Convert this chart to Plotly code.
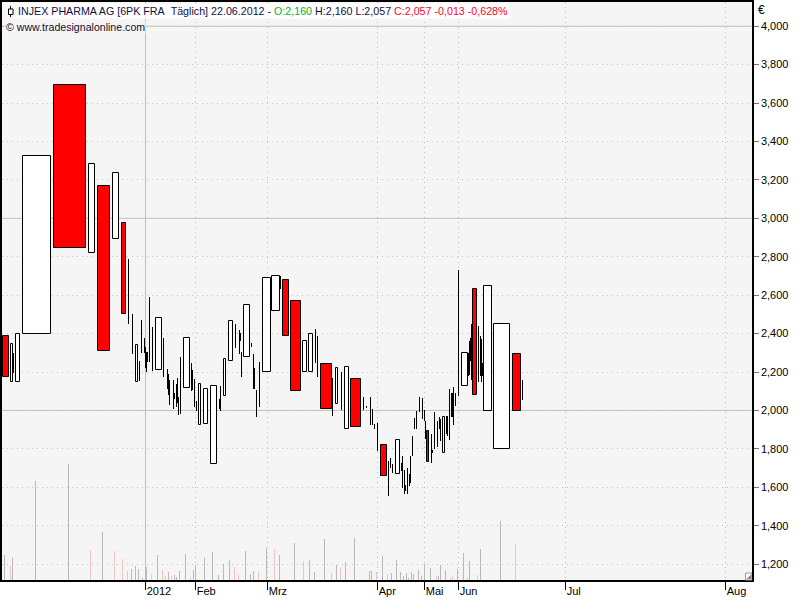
import plotly.graph_objects as go

# Equivolume candles: position on the time axis, width (volume), body extent, colour
body_x = [5.5,11.5,17.3,36.5,69.5,91.3,103.5,115.3,123.5,136.5,158.3,186.5,199.5,205.5,213.5,224.5,230.5,246.3,266.3,275.3,285.3,295.3,304.3,310.3,325.7,336.3,346.5,355.5,383.5,397.5,427.5,443.3,464.3,474.5,487.5,501.5,516.5]
body_w = [6.4,2.4,4,28.4,32.4,6,12.4,6,4.4,2.4,6,6.4,2.4,4.4,6.4,2.4,4.4,6,8,8,6,10,4,4,10.7,2,4.4,10.4,6.4,4.4,2.4,2,6,4.4,8.4,16.4,8.4]
body_hi = [2.385,2.345,2.399,3.326,3.694,3.284,3.170,3.237,2.978,2.340,2.480,2.376,2.138,2.112,2.127,2.267,2.464,2.547,2.688,2.698,2.677,2.568,2.361,2.397,2.241,2.221,2.226,2.164,1.821,1.847,1.894,1.967,2.299,2.630,2.646,2.449,2.293]
body_lo = [2.172,2.148,2.148,2.397,2.846,2.817,2.307,2.895,2.501,2.148,2.210,2.117,1.923,1.930,1.723,2.075,2.255,2.278,2.200,2.516,2.387,2.101,2.200,2.200,2.008,2.034,1.904,1.915,1.661,1.671,1.733,1.780,2.127,2.081,1.998,1.801,1.998]
body_red = [1,0,0,0,1,0,1,0,1,0,0,0,0,0,0,0,0,0,0,0,1,1,0,0,1,0,0,1,1,0,1,0,0,1,0,0,1]

# Very narrow candles, seen as bare lines
line_x = [13.3,128.3,132.3,139.3,141.3,143.7,144.7,146.3,147.3,149.3,152.3,163.3,166.7,167.7,169.3,172.7,173.7,175.7,176.7,178.3,180.3,191,192.3,194.3,196.3,219.3,220.3,235.3,239.3,240.3,241.3,251.3,253.3,254.3,256.3,259.3,280,315.3,317.3,332.3,341.3,363.3,366.3,370.3,372.3,374.3,377.3,388.3,390.3,392.3,401.3,402.3,404.3,405.3,407.3,409.3,410.3,412.3,414.3,416.3,419.3,422.3,424.3,425.3,431.3,432.3,434.3,437.3,438.7,440.3,446.3,447.3,449.3,451.3,452.3,453.3,455.3,458.3,468.3,469.3,470.3,471.3,478.3,480.3,481.3,482.3,522.3]
line_hi = [2.300,2.788,2.502,2.259,2.471,2.378,2.331,2.305,2.305,2.591,2.435,2.378,2.217,2.191,2.160,2.160,2.093,2.139,2.170,2.072,2.279,2.248,2.212,2.165,2.051,2.062,2.129,2.450,2.419,2.404,2.305,2.352,2.295,2.222,2.107,2.252,2.699,2.423,2.387,2.170,2.202,2.072,2.023,2.072,2.010,1.932,1.937,1.735,1.750,1.723,1.724,1.761,1.692,1.610,1.702,1.667,1.761,1.869,1.963,1.998,2.072,2.067,2.000,1.946,1.880,1.793,1.992,1.947,1.967,1.956,1.972,1.973,2.112,2.093,2.093,2.124,2.093,2.731,2.300,2.359,2.376,2.450,2.440,2.388,2.373,2.248,2.160]
line_lo = [2.196,2.452,2.296,2.151,2.299,2.300,2.222,2.198,2.253,2.250,2.203,2.176,2.113,2.082,2.030,2.010,2.062,2.016,2.041,1.975,1.984,2.099,2.108,2.020,1.999,2.010,1.999,2.326,2.295,2.362,2.172,2.331,2.113,2.113,1.965,2.020,2.634,2.247,2.172,1.970,2.001,2.001,2.017,1.923,1.923,1.902,1.788,1.555,1.702,1.673,1.684,1.595,1.564,1.579,1.564,1.607,1.622,1.761,1.906,1.906,1.994,1.953,1.946,1.849,1.724,1.776,1.801,1.811,1.906,1.840,1.875,1.866,1.844,1.965,1.965,1.923,2.025,2.074,2.181,2.186,2.259,2.160,2.148,2.179,2.150,2.177,2.056]

# Volume histogram
vol_x_gray = [4.3,12.3,35.3,68.3,102,131,135.3,138,142,146,157,168,174,176,179,185,193,195,204,212,218,223,229,245,250,253,266,279,294,309,314,324,336,345,354,369,371,382,391,396,400,403,406,408,411,413,418,421,424,430,438,440,445,457,463,469,480,500]
vol_gray = [25,22,99,116,48,11,14,11,2,13,25,8,5,3,9,26,10,15,22,28,5,16,20,29,6,9,32,25,37,20,8,41,15,18,42,9,9,24,7,20,8,4,7,2,8,6,10,4,16,12,4,15,10,11,27,19,31,59]
vol_x_pink = [10.3,90,114,122,127,151,162,165,171,190,234,238,258,274,303,331,340,361,376,387,436,450,452,467,477,515]
vol_pink = [14,30,29,21,9,6,10,4,4,3,13,5,8,31,19,7,12,1,8,6,4,2,4,2,5,36]

month_pos = [145,195,267,377,424,458,565,725]
month_labels = ["2012","Feb","Mrz","Apr","Mai","Jun","Jul","Aug"]
price_ticks = [1.2,1.4,1.6,1.8,2.0,2.2,2.4,2.6,2.8,3.0,3.2,3.4,3.6,3.8,4.0]
price_labels = ["1,200","1,400","1,600","1,800","2,000","2,200","2,400","2,600","2,800","3,000","3,200","3,400","3,600","3,800","4,000"]
major_prices = [2.0,3.0,4.0]

FONT = "Liberation Sans"
GREEN = "#b2c9b2"
TOP, BOTTOM = 0, 580
def py(px):
    return (BOTTOM - px) / (BOTTOM - TOP)

fig = go.Figure()
fig.add_bar(x=vol_x_gray, y=vol_gray, width=0.1, yaxis="y2", marker=dict(color="#b9b9b9", line=dict(width=0)))
fig.add_bar(x=vol_x_pink, y=vol_pink, width=0.1, yaxis="y2", marker=dict(color="#f0c4c4", line=dict(width=0)))
fig.add_bar(x=line_x, base=line_lo, y=[h-l for h, l in zip(line_hi, line_lo)], width=0.1,
            marker=dict(color="#000000", line=dict(width=0)))
fig.add_bar(x=body_x, base=body_lo, y=[h-l for h, l in zip(body_hi, body_lo)], width=body_w,
            marker=dict(color=["#ff0000" if r else "#ffffff" for r in body_red],
                        line=dict(color="#000000", width=1)))

shapes = [dict(type="line", xref="paper", x0=0, x1=1, yref="y", y0=p, y1=p, layer="below",
               line=dict(color=GREEN, width=1)) for p in major_prices]
shapes.append(dict(type="line", xref="x", x0=145, x1=145, yref="paper", y0=0, y1=1, layer="below",
                   line=dict(color=GREEN, width=1)))
# resize corner
shapes.append(dict(type="rect", xref="x", x0=745, x1=751.5, yref="paper", y0=py(573), y1=py(580), fillcolor="#ffffff", line=dict(color="#999", width=1)))
shapes.append(dict(type="path", xref="x", yref="paper", path=f"M 746 {py(579)} L 751 {py(579)} L 751 {py(574)} Z", fillcolor="#8a8a8a", line=dict(width=0)))

title = ('<span style="color:#101040">INJEX PHARMA AG [6PK FRA&nbsp;&nbsp;Täglich] 22.06.2012 - </span>'
         '<span style="color:#00b030">O:2,160</span> '
         '<span style="color:#101040">H:2,160 L:2,057</span> '
         '<span style="color:#ff0030">C:2,057 -0,013 -0,628%</span>')
annotations = [
    dict(text=title, xref="x", yref="paper", x=15, y=py(9), xanchor="left", yanchor="middle", showarrow=False,
         bgcolor="#ffffff", borderpad=1, font=dict(family=FONT, size=10.7)),
    dict(text="© www.tradesignalonline.com", xref="x", yref="paper", x=4, y=py(25.5), xanchor="left", yanchor="middle",
         showarrow=False, bgcolor="#f5f5f5", borderpad=0, font=dict(family=FONT, size=10.6, color="#101030")),
    dict(text="€", xref="paper", yref="paper", x=1, xshift=4, y=py(8), xanchor="left", yanchor="middle", showarrow=False,
         font=dict(family=FONT, size=12, color="#000")),
]
# candle icon in the title
shapes.append(dict(type="line", xref="x", x0=10, x1=10, yref="paper", y0=py(4), y1=py(15), line=dict(color="#000", width=1)))
shapes.append(dict(type="rect", xref="x", x0=8, x1=12.5, yref="paper", y0=py(7), y1=py(12.5), fillcolor="#fff", line=dict(color="#000", width=1)))

dots = "1px,4px"
fig.update_layout(
    width=800, height=600, autosize=False, showlegend=False, barmode="overlay", bargap=0,
    margin=dict(l=2, r=48, t=TOP, b=600-BOTTOM, pad=0),
    paper_bgcolor="#ffffff", plot_bgcolor="#f5f5f5",
    font=dict(family=FONT, size=11, color="#000"),
    shapes=shapes, annotations=annotations,
    xaxis=dict(range=[1.5, 751.5], tickmode="array", tickvals=month_pos, ticktext=month_labels,
               ticks="outside", ticklen=8, tickcolor="#000", tickwidth=1, ticklabelposition="outside right",
               showgrid=True, gridcolor="#a9c6a9", griddash=dots, gridwidth=1, zeroline=False,
               showline=True, linecolor="#000", linewidth=1.5, mirror=True,
               tickfont=dict(family=FONT, size=11, color="#000")),
    yaxis=dict(range=[1.1175, 4.126], side="right", tickmode="array", tickvals=price_ticks, ticktext=price_labels,
               ticks="outside", ticklen=5, tickcolor="#777", tickwidth=1,
               showgrid=True, gridcolor="#c2c2c2", griddash=dots, gridwidth=1, zeroline=False,
               showline=True, linecolor="#000", linewidth=1.5, mirror=True,
               tickfont=dict(family=FONT, size=11, color="#000")),
    yaxis2=dict(range=[0, 580], overlaying="y", side="left", visible=False),
)
fig.write_html("out.html", config=dict(displayModeBar=False),
               post_script="document.body.style.margin='0';document.documentElement.style.overflow='hidden';")
